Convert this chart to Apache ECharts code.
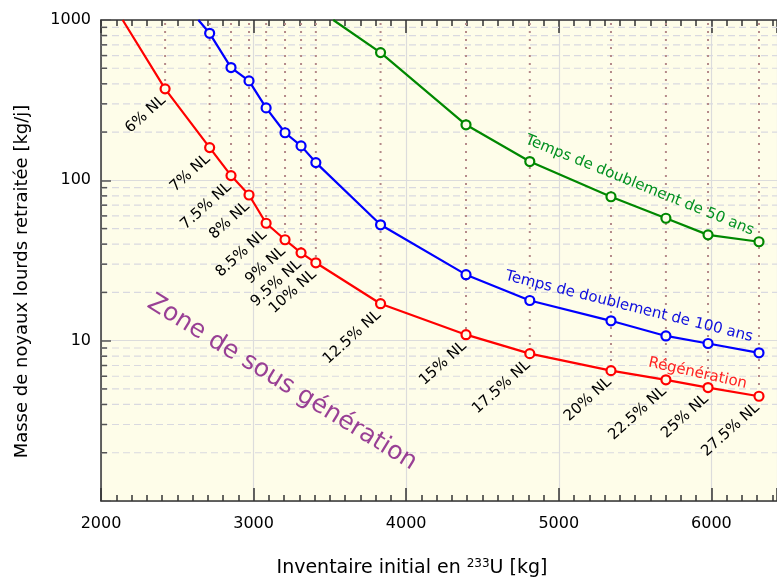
<!DOCTYPE html>
<html>
<head>
<meta charset="utf-8">
<script src="https://cdn.jsdelivr.net/npm/echarts@6/dist/echarts.min.js"></script>
<style>html,body{margin:0;padding:0;background:#fff;overflow:hidden;}#c{width:777px;height:578px;}</style>
</head>
<body>
<div id="c"></div>
<script>
// ---- data ----
const xNL = [2420, 2712, 2852, 2970, 3082, 3206, 3311, 3408, 3832, 4392, 4810, 5342, 5702, 5978, 6312];
const nlLabels = ['6% NL','7% NL','7.5% NL','8% NL','8.5% NL','9% NL','9.5% NL','10% NL','12.5% NL','15% NL','17.5% NL','20% NL','22.5% NL','25% NL','27.5% NL'];
const yRegen = [372, 160, 107, 81, 54, 42.6, 35.3, 30.6, 17.0, 10.9, 8.3, 6.5, 5.7, 5.1, 4.5];
const yT100 = [826, 505, 417, 283, 198, 164, 129, 52.8, 25.8, 17.8, 13.3, 10.7, 9.6, 8.4];
const yT50 = [626, 222, 131, 79, 58, 45.7, 41.4];
const regenStart = [2142, 1000];
const t100Start = [2638, 1000];
const t50Start = [3522, 1000];
const xTicks = [2000, 3000, 4000, 5000, 6000];
const yTicks = [1, 10, 100, 1000];
const yMinor = [2,3,4,5,6,7,8,9,20,30,40,50,60,70,80,90,200,300,400,500,600,700,800,900];

const X_MIN = 2000, X_MAX = 6430, Y_MIN = 1, Y_MAX = 1000;
const FONT = '"DejaVu Sans", sans-serif';
const BG = '#fefde9';

function build(startPt, xs, ys) {
  const d = [{ value: startPt, symbol: 'none', label: { show: false } }];
  for (let i = 0; i < ys.length; i++) d.push({ value: [xs[i], ys[i]] });
  return d;
}
const regenData = build(regenStart, xNL, yRegen).map((d, i) => {
  if (i > 0) d.name = nlLabels[i - 1];
  return d;
});
const t100Data = build(t100Start, xNL.slice(1), yT100);
const t50Data = build(t50Start, xNL.slice(8), yT50);

const chart = echarts.init(document.getElementById('c'), null, { renderer: 'canvas' });

const lineBase = (color) => ({
  type: 'line',
  symbol: 'circle',
  symbolSize: 9,
  showSymbol: true,
  lineStyle: { color: color, width: 2.2 },
  itemStyle: { color: BG, borderColor: color, borderWidth: 2.2 },
  emphasis: { disabled: true },
  animation: false,
  z: 5
});

const option = {
  animation: false,
  backgroundColor: '#ffffff',
  grid: { left: 101, right: 0, top: 20, bottom: 77, show: true, backgroundColor: BG, borderWidth: 0,
    containLabel: false, outerBoundsMode: 'none' },
  xAxis: [{
    type: 'value', min: X_MIN, max: X_MAX, interval: 1000, position: 'bottom',
    axisLine: { show: true, lineStyle: { color: '#333', width: 1.5 } },
    axisTick: { show: true, inside: true, length: 13, lineStyle: { color: '#333', width: 1.5 } },
    minorTick: { show: true, splitNumber: 10, length: 6, lineStyle: { color: '#333', width: 1.5 } },
    axisLabel: { show: true, color: '#000', fontSize: 16, fontFamily: FONT, margin: 15,
      formatter: (v) => xTicks.indexOf(v) >= 0 ? String(v) : '' },
    splitLine: { show: true, lineStyle: { color: '#dcdcdc', width: 1.2 } },
    name: 'Inventaire initial en {sup|233}U [kg]',
    nameLocation: 'middle', nameGap: 57,
    nameTextStyle: { color: '#000', fontSize: 19, fontFamily: FONT, padding: [0, 54, 0, 0],
      rich: { sup: { fontSize: 12, verticalAlign: 'top', padding: [0,0,8,0], fontFamily: FONT, color: '#000' } } }
  }, {
    type: 'value', min: X_MIN, max: X_MAX, interval: 1000, position: 'top',
    axisLine: { show: true, lineStyle: { color: '#333', width: 1.5 } },
    axisTick: { show: true, inside: true, length: 13, lineStyle: { color: '#333', width: 1.5 } },
    minorTick: { show: true, splitNumber: 10, length: 6, lineStyle: { color: '#333', width: 1.5 } },
    axisLabel: { show: false },
    splitLine: { show: false }
  }],
  yAxis: [{
    type: 'log', logBase: 10, min: Y_MIN, max: Y_MAX,
    axisLine: { show: true, lineStyle: { color: '#333', width: 1.5 } },
    axisTick: { show: true, inside: true, length: 10, lineStyle: { color: '#555', width: 1.5 } },
    axisLabel: { show: true, color: '#000', fontSize: 16, fontFamily: FONT, margin: 10,
      formatter: (v) => (v > 1 && yTicks.indexOf(v) >= 0) ? String(v) : '' },
    splitLine: { show: true, lineStyle: { color: '#dcdcdc', width: 1.2 } },
    name: 'Masse de noyaux lourds retraitée [kg/j]',
    nameLocation: 'middle', nameGap: 70, nameRotate: 90,
    nameTextStyle: { color: '#000', fontSize: 18, fontFamily: FONT, padding: [0, 42, 0, 0] }
  }],
  series: [
    {
      // minor log grid (dashed) + minor ticks on left axis
      type: 'custom', xAxisIndex: 0, yAxisIndex: 0, z: 1, silent: true, clip: true,
      data: yMinor.map(v => [v]),
      renderItem: function (params, api) {
        const v = api.value(0);
        const p0 = api.coord([X_MIN, v]);
        const p1 = api.coord([X_MAX, v]);
        return { type: 'group', children: [
          { type: 'line', shape: { x1: p0[0], y1: p0[1], x2: p1[0], y2: p1[1] },
            style: { stroke: '#d9d9e0', lineWidth: 1.2, lineDash: [7, 4] } },
          { type: 'line', shape: { x1: p0[0], y1: p0[1], x2: p0[0] + 6, y2: p0[1] },
            style: { stroke: '#555', lineWidth: 1.5 } }
        ] };
      }
    },
    {
      // dotted vertical guides from the top down to the regeneration points
      type: 'custom', xAxisIndex: 0, yAxisIndex: 0, z: 2, silent: true, clip: true,
      data: xNL.map((x, i) => [x, yRegen[i]]),
      renderItem: function (params, api) {
        const x = api.value(0), y = api.value(1);
        const pTop = api.coord([x, Y_MAX]);
        const pBot = api.coord([x, y]);
        return { type: 'line', shape: { x1: pTop[0], y1: pTop[1] + 3, x2: pBot[0], y2: pBot[1] },
          style: { stroke: '#b58a8a', lineWidth: 2, lineDash: [2, 6] } };
      }
    },
    Object.assign(lineBase('#ff0000'), {
      name: 'Régénération',
      data: regenData,
      label: { show: true, position: [4, 15], rotate: 42, align: 'right', verticalAlign: 'middle',
        fontSize: 15, fontFamily: FONT, color: '#000', formatter: (p) => p.name },
      markPoint: { symbol: 'circle', symbolSize: 0, silent: true,
        data: [{ coord: [5910, 6.25], label: { show: true, position: 'inside', formatter: 'Régénération',
          rotate: -12.5, color: '#ff2020', fontSize: 15, fontFamily: FONT } }] }
    }),
    Object.assign(lineBase('#0000ff'), {
      name: 'Temps de doublement de 100 ans',
      data: t100Data,
      markPoint: { symbol: 'circle', symbolSize: 0, silent: true,
        data: [{ coord: [5460, 16.3], label: { show: true, position: 'inside', formatter: 'Temps de doublement de 100 ans',
          rotate: -14, color: '#1010dd', fontSize: 15, fontFamily: FONT } }] }
    }),
    Object.assign(lineBase('#008800'), {
      name: 'Temps de doublement de 50 ans',
      data: t50Data,
      markPoint: { symbol: 'circle', symbolSize: 0, silent: true,
        data: [{ coord: [5530, 93], label: { show: true, position: 'inside', formatter: 'Temps de doublement de 50 ans',
          rotate: -22, color: '#009020', fontSize: 15, fontFamily: FONT } }] }
    }),
    {
      type: 'scatter', symbolSize: 0, silent: true, z: 6,
      data: [{ value: [3186, 5.47] }],
      label: { show: true, position: 'inside', formatter: 'Zone de sous génération', rotate: -31.7,
        color: '#80107f', fontSize: 25, fontFamily: FONT }
    }
  ]
};
chart.setOption(option);
</script>
</body>
</html>
